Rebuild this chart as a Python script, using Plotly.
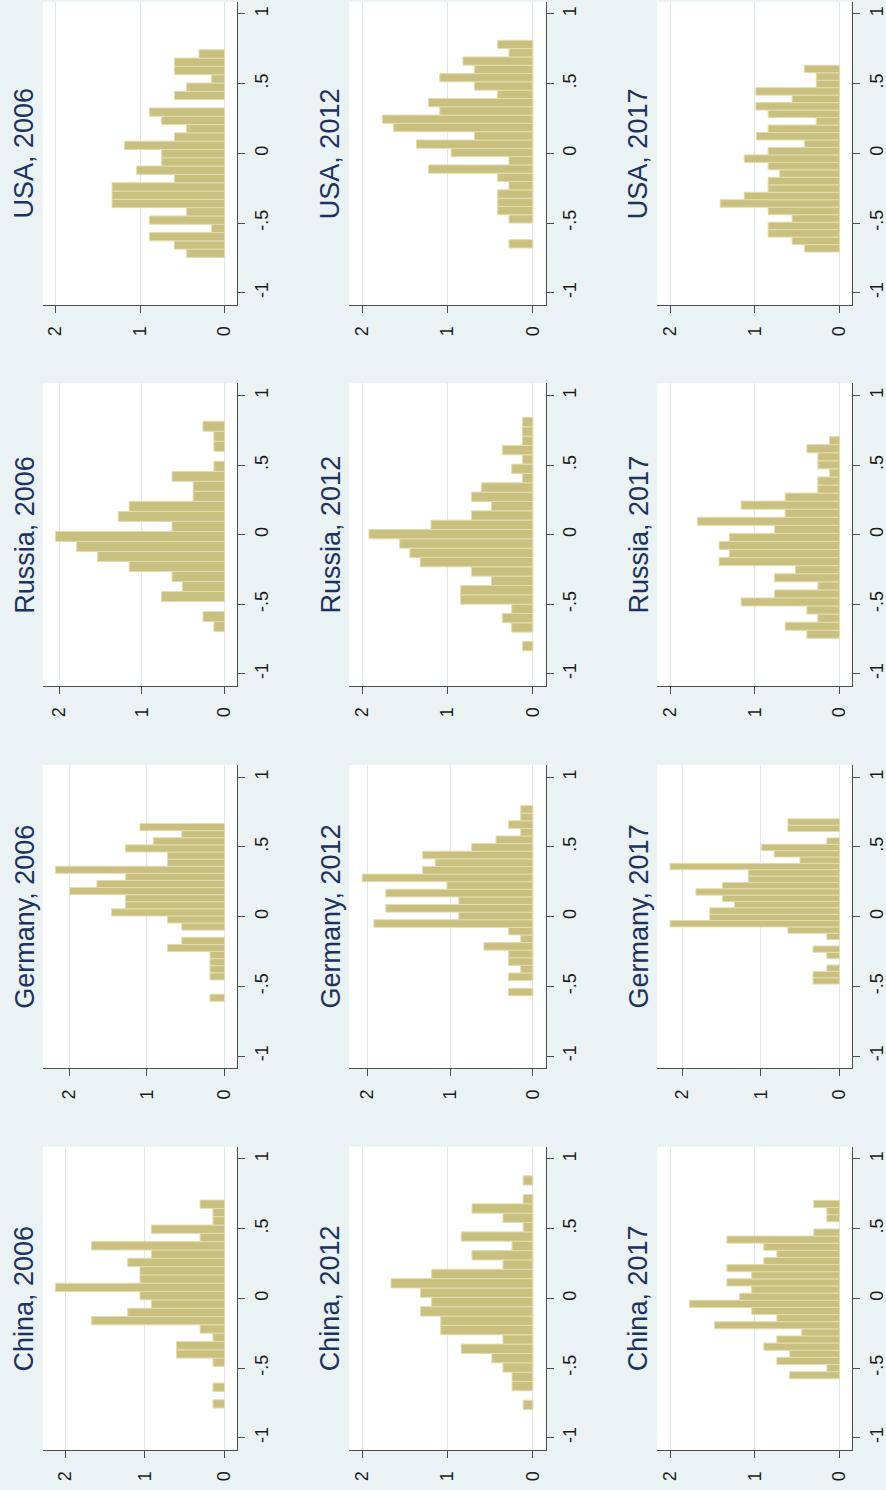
import plotly.graph_objects as go

# ---------------- data (densities listed from lowest bin to highest bin) ----------------
countries = ["USA", "Russia", "Germany", "China"]
years = [2006, 2012, 2017]

usa_2006 = [0.449, 0.594, 0.89, 0.154, 0.89, 0.449, 1.33, 1.33, 1.33, 0.594, 1.04, 0.744, 0.744,
            1.185, 0.594, 0.449, 0.744, 0.89, 0, 0.594, 0.449, 0.154, 0.594, 0.594, 0.303]
usa_2012 = [0.28, 0, 0, 0.28, 0.413, 0.413, 0.413, 0.28, 0.413, 1.224, 0.28, 0.957, 1.362, 0.685,
            1.63, 1.764, 1.09, 1.224, 0.413, 0.685, 1.09, 0.685, 0.819, 0.28, 0.413]
usa_2017 = [0.416, 0.56, 0.843, 0.843, 0.56, 0.843, 1.408, 1.125, 0.843, 0.843, 0.706, 0.843, 1.125,
            0.843, 0.416, 0.98, 0.843, 0.275, 0.843, 0.988, 0.56, 0.988, 0.275, 0.275, 0.416]
usa_lo = [-0.747, -0.679, -0.708]
usa_w = [0.0596, 0.0596, 0.0536]

russia_2006 = [0.129, 0.261, 0, 0.763, 0.51, 0.635, 1.153, 1.534, 1.787, 2.044, 0.635, 1.285, 1.153,
               0.38, 0.38, 0.635, 0.129, 0, 0.129, 0.129, 0.261]
russia_2012 = [0.122, 0, 0.248, 0.358, 0.248, 0.846, 0.846, 0.484, 0.72, 1.32, 1.44, 1.56, 1.92, 1.193,
               0.72, 0.484, 0.72, 0.602, 0.122, 0.248, 0.122, 0.358, 0.122, 0.122, 0.122]
russia_2017 = [0.386, 0.642, 0.256, 0.386, 1.161, 0.768, 0.256, 0.768, 0.52, 1.421, 1.3, 1.421, 1.3,
               0.768, 1.677, 0.642, 1.161, 0.642, 0.256, 0.256, 0.118, 0.256, 0.256, 0.386, 0.118]
russia_lo = [-0.697, -0.835, -0.745]
russia_w = [0.072, 0.0671, 0.058]

germany_2006 = [0.188, 0, 0, 0.188, 0.188, 0.188, 0.188, 0.735, 0.551, 0, 0.551, 0.735, 1.457, 1.278,
                1.278, 1.996, 1.645, 1.278, 2.18, 0.735, 0.735, 1.278, 0.919, 0.551, 1.09]
germany_2012 = [0.294, 0, 0.294, 0.147, 0.294, 0.294, 0.592, 0.147, 0.294, 1.92, 0.895, 1.777, 0.895,
                1.777, 1.038, 2.063, 1.332, 1.18, 1.332, 0.74, 0.445, 0.147, 0.294, 0.147, 0.147]
germany_2017 = [0.337, 0.337, 0.162, 0, 0.162, 0.337, 0, 0.162, 0.656, 2.153, 1.65, 1.65, 1.335, 1.488,
                1.825, 1.488, 1.16, 1.16, 2.153, 0.503, 0.83, 0.993, 0.162, 0, 0.656, 0.656]
germany_lo = [-0.607, -0.568, -0.484]
germany_w = [0.051, 0.0546, 0.0456]

china_2006 = [0.146, 0, 0.146, 0, 0, 0.146, 0.604, 0.604, 0.146, 0.308, 1.67, 1.217, 0.92, 1.0625, 2.125,
              1.0625, 1.0625, 1.217, 0.92, 1.67, 0.308, 0.92, 0.146, 0.146, 0.308]
china_2012 = [0.114, 0, 0.244, 0.244, 0.35, 0.48, 0.839, 0.35, 1.079, 1.079, 1.316, 1.185, 1.316, 1.662,
              1.185, 0.35, 0.713, 0.244, 0.839, 0.114, 0.35, 0.713, 0.114, 0, 0.114]
china_2017 = [0.589, 0.15, 0.74, 0.589, 0.894, 0.74, 0.447, 1.476, 0.74, 1.037, 1.768, 1.179, 1.037, 1.329,
              1.037, 1.329, 0.894, 0.74, 0.894, 1.329, 0.305, 0, 0.15, 0.15, 0.305]
china_lo = [-0.787, -0.798, -0.577]
china_w = [0.0597, 0.0671, 0.0512]

value_ticks = [0, 1, 2]
value_labels = ["0", "1", "2"]
bin_ticks = [-1, -0.5, 0, 0.5, 1]
bin_labels = ["-1", "-.5", "0", ".5", "1"]

panels = {
    "USA": ([usa_2006, usa_2012, usa_2017], usa_lo, usa_w),
    "Russia": ([russia_2006, russia_2012, russia_2017], russia_lo, russia_w),
    "Germany": ([germany_2006, germany_2012, germany_2017], germany_lo, germany_w),
    "China": ([china_2006, china_2012, china_2017], china_lo, china_w),
}

# ---------------- layout / style ----------------
W, H = 886, 1490
col_left = [42.7, 349.3, 657.3]
col_right = [237.3, 545.7, 852.3]
row_top = [1.7, 383.3, 765.0, 1146.7]
row_bot = [305.0, 686.0, 1068.3, 1450.0]
YR = 1.088

BG = "#EAF2F3"
FILL = "#C9BF7E"
EDGE = "#E2DDB0"
GRID = "#DCE8EC"
AXC = "#4d4d4d"
TITLE_C = "#1C3260"
FONT = "Liberation Sans, Arial, Helvetica, sans-serif"

fig = go.Figure()
layout = {}
annotations = []

for r, country in enumerate(countries):
    series, los, ws = panels[country]
    for c, year in enumerate(years):
        k = r * 3 + c + 1
        xa = "x" if k == 1 else f"x{k}"
        ya = "y" if k == 1 else f"y{k}"
        vals = series[c]
        lo, w = los[c], ws[c]
        centers = [lo + (i + 0.5) * w for i in range(len(vals))]
        xs = [v if v > 0 else None for v in vals]
        fig.add_trace(go.Bar(
            x=xs, y=centers, width=w, orientation="h",
            xaxis=xa, yaxis=ya, showlegend=False, hoverinfo="skip",
            marker=dict(color=FILL, line=dict(color=EDGE, width=1)),
        ))
        M = max(2.0, max(vals))
        layout["xaxis" if k == 1 else f"xaxis{k}"] = dict(
            domain=[col_left[c] / W, col_right[c] / W], anchor=ya,
            range=[1.075 * M, -0.075 * M],
            tickmode="array", tickvals=value_ticks, ticktext=value_labels,
            tickangle=-90, ticks="outside", ticklen=7, tickwidth=1, tickcolor=AXC,
            showline=True, linecolor=AXC, linewidth=1,
            showgrid=True, gridcolor=GRID, gridwidth=1, zeroline=False,
            tickfont=dict(family=FONT, size=18, color="#1a1a1a"),
            ticklabelstandoff=6, fixedrange=True,
        )
        layout["yaxis" if k == 1 else f"yaxis{k}"] = dict(
            domain=[1 - row_bot[r] / H, 1 - row_top[r] / H], anchor=xa, side="right",
            range=[-YR, YR],
            tickmode="array", tickvals=bin_ticks, ticktext=bin_labels,
            tickangle=-90, ticks="outside", ticklen=7, tickwidth=1, tickcolor=AXC,
            showline=True, linecolor=AXC, linewidth=1,
            showgrid=False, zeroline=False,
            tickfont=dict(family=FONT, size=18, color="#1a1a1a"),
            ticklabelstandoff=1, fixedrange=True,
        )
        annotations.append(dict(
            text=f"{country}, {year}", xref="paper", yref="paper",
            x=(col_left[c] - 18.5) / W,
            y=1 - (row_top[r] + row_bot[r]) / 2 / H,
            xanchor="center", yanchor="middle", textangle=-90, showarrow=False,
            font=dict(family=FONT, size=27, color=TITLE_C),
        ))

fig.update_layout(
    width=W, height=H, margin=dict(l=0, r=0, t=0, b=0),
    paper_bgcolor=BG, plot_bgcolor="white",
    bargap=0, annotations=annotations, **layout,
)

fig.write_html(
    "out.html",
    config={"displayModeBar": False, "staticPlot": True},
    post_script="document.body.style.margin='0';document.body.style.padding='0';"
                "document.body.style.background='#EAF2F3';document.body.style.overflow='hidden';",
)
